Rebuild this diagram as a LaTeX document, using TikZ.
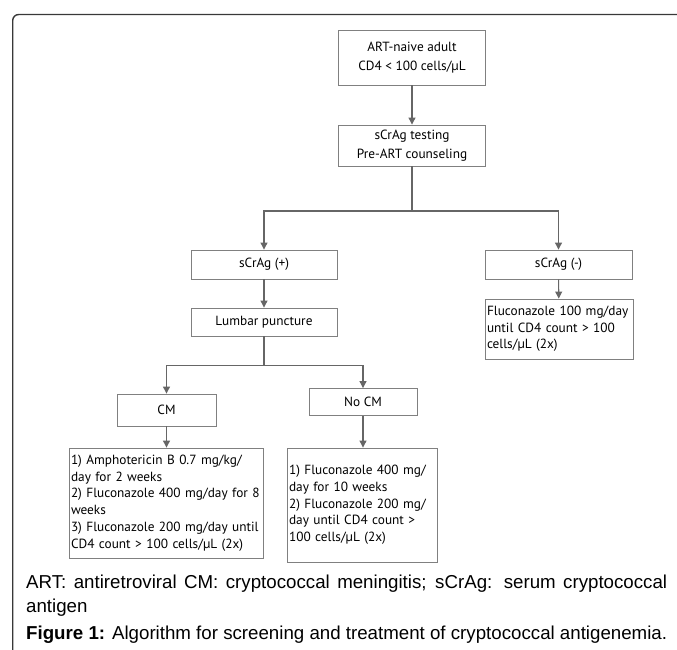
\documentclass[tikz,border=0pt]{standalone}
\usepackage{fontspec}
\setmainfont{Liberation Sans}
\newfontfamily\boxfont{PT Sans}
\usetikzlibrary{positioning, arrows.meta, shadows}

\begin{document}
\begin{tikzpicture}[
    x=1pt, y=-1pt,
    >={Triangle[length=7pt, width=7pt]},
    boxstyle/.style={draw=black!50, line width=0.9pt, fill=white, inner sep=3pt,
        font=\boxfont\fontsize{13.3}{18.5}\selectfont, align=center},
    txtstyle/.style={boxstyle, align=left, inner xsep=2pt,
        font=\boxfont\fontsize{13.3}{16.7}\selectfont,
        drop shadow={shadow xshift=1.2pt, shadow yshift=-1.2pt, fill=black!20}},
    flow/.style={->, draw=black!60, line width=1.1pt},
    wire/.style={draw=black!60, line width=1.1pt},
    capfont/.style={font=\fontsize{18.7}{22}\selectfont, inner sep=0pt, anchor=base west}
  ]
    \useasboundingbox (0,0) rectangle (677,649);
    % outer frame, open to the right and bottom
    \draw[line width=1.4pt, draw=black!78, rounded corners=6pt] (12.7,670) -- (12.7,14.5) -- (700,14.5);

    \node[boxstyle, minimum width=147pt, minimum height=55pt] (naive) at (412,57.5)
        {ART-naive adult\\CD4 < 100 cells/µL};
    \node[boxstyle, minimum width=147pt, minimum height=41pt] (screen) at (412,145.5)
        {sCrAg testing\\Pre-ART counseling};
    \node[boxstyle, minimum width=146pt, minimum height=29pt] (pos) at (264,264.5) {sCrAg (+)};
    \node[boxstyle, minimum width=147pt, minimum height=29pt] (neg) at (558.5,264.5) {sCrAg (-)};
    \node[txtstyle, minimum width=148pt, minimum height=60pt, text width=144pt] (negtx) at (559,329)
        {Fluconazole 100 mg/day\\until CD4 count > 100\\cells/µL (2x)};
    \node[boxstyle, minimum width=146pt, minimum height=28pt] (lumbar) at (264,322) {Lumbar puncture};
    \node[boxstyle, minimum width=99pt, minimum height=32pt] (cm) at (166.5,410) {CM};
    \node[boxstyle, minimum width=108pt, minimum height=27pt] (nocm) at (363,402) {No CM};
    \node[txtstyle, minimum width=194pt, minimum height=110pt, text width=190pt] (cmtx) at (166,503)
        {1) Amphotericin B 0.7 mg/kg/\\day for 2 weeks\\2) Fluconazole 400 mg/day for 8\\weeks\\3) Fluconazole 200 mg/day until\\CD4 count > 100 cells/µL (2x)};
    \node[txtstyle, minimum width=150pt, minimum height=114pt, text width=146pt] (nocmtx) at (362,505)
        {1) Fluconazole 400 mg/\\day for 10 weeks\\2) Fluconazole 200 mg/\\day until CD4 count >\\100 cells/µL (2x)};

    % branch points
    \coordinate (fork1) at (412,211);
    \coordinate (fork2) at (264,365.5);

    \draw[flow] (naive) -- (screen);
    \draw[wire] (screen) -- (fork1);
    \draw[flow] (fork1) -| (pos.north);
    \draw[flow] (fork1) -| (neg.north);
    \draw[flow] (pos) -- (lumbar);
    \draw[flow] (neg) -- (negtx);
    \draw[wire] (lumbar) -- (fork2);
    \draw[flow] (fork2) -| (cm.north);
    \draw[flow] (fork2) -| (nocm.north);
    \draw[flow] (cm.south) -- (cm.south |- cmtx.north);
    \draw[flow] (nocm.south) -- (nocm.south |- nocmtx.north);

    % caption
    \node[capfont] (legend) at (26,588)
        {\makebox[641pt][s]{ART: antiretroviral CM: cryptococcal meningitis; sCrAg: serum cryptococcal}};
    \node[capfont] (legend2) at (26,612) {antigen};
    \node[capfont] (figcap) at (26,639)
        {\textbf{Figure 1:} Algorithm for screening and treatment of cryptococcal antigenemia.};
\end{tikzpicture}
\end{document}
